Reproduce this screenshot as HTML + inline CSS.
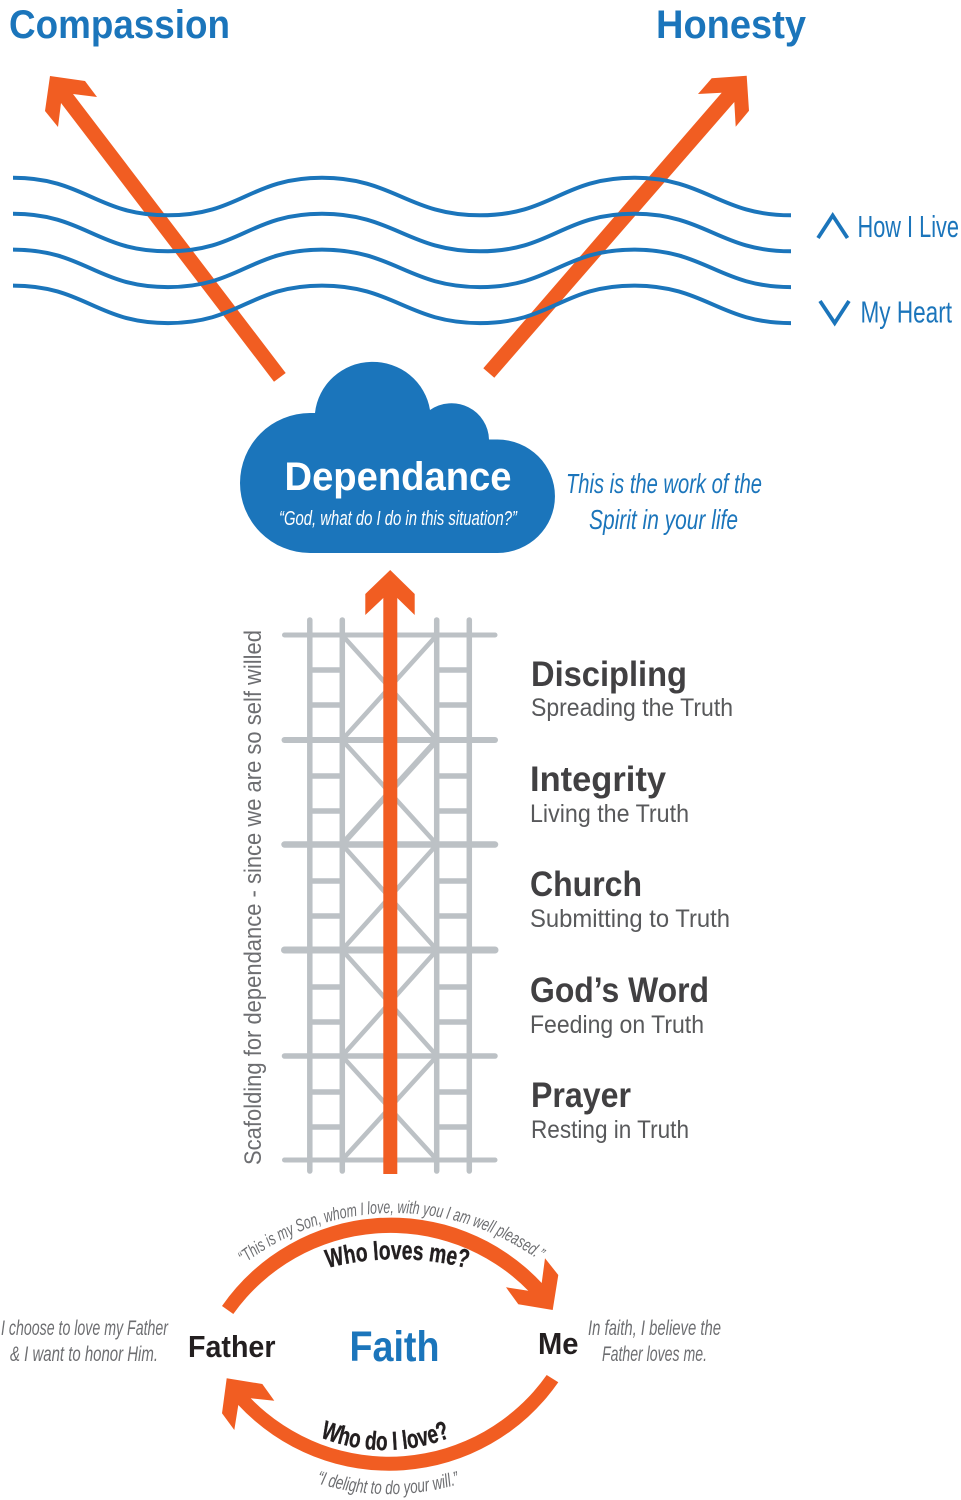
<!DOCTYPE html>
<html lang="en"><head><meta charset="utf-8"><title>Dependance diagram</title>
<style>
html,body{margin:0;padding:0;background:#fff}
svg{display:block}
text{font-family:"Liberation Sans",sans-serif}
.h{font-weight:bold;fill:#414042;font-size:35px}
.s{fill:#58595b;font-size:25px}
.q{font-style:italic;fill:#6d6e71;font-size:21px}
.b{fill:#1b75bb}
.bd{font-weight:bold;fill:#231f20}
.hv{stroke:#231f20;stroke-width:.4}
</style></head><body>
<svg xmlns="http://www.w3.org/2000/svg" width="961" height="1500" viewBox="0 0 961 1500">
<defs>
<path id="p1" d="M244,1264 A246,246 0 0 1 544,1264"/>
<path id="p2" d="M327.5,1268 A277,277 0 0 1 473.5,1270"/>
<path id="p3" d="M320,1437 A171,171 0 0 0 451,1437"/>
<path id="p4" d="M316,1483 A246,246 0 0 0 459,1484"/>
<path id="w" d="M13,0 C85,0 96,37.5 168,37.5 C240,37.5 250,0 322,0 C394,0 408,37.5 480,37.5 C552,37.5 562,0 634,0 C706,0 719,37.5 791,37.5" fill="none" stroke="#1b75bb" stroke-width="4"/>
</defs>

<text x="9" y="38" font-size="40" font-weight="bold" class="b" textLength="221" lengthAdjust="spacingAndGlyphs">Compassion</text>
<text x="656" y="38" font-size="40" font-weight="bold" class="b" textLength="150" lengthAdjust="spacingAndGlyphs">Honesty</text>

<!-- big orange arrows -->
<polygon fill="#f15d22" points="285.7,373 274,381.7 61,103 58,127 45,111 50,76 85,81 97,97 73,94"/>
<polygon fill="#f15d22" points="483.3,368.3 494.3,377.7 734.3,102 735.7,126.7 749,110.7 746.7,75.7 711.7,78.3 698,94 721.7,92.7"/>

<!-- waves -->
<use href="#w" y="177.8"/>
<use href="#w" y="213.8"/>
<use href="#w" y="249.6"/>
<use href="#w" y="285.6"/>

<polyline points="818,238 832.7,215.5 847.5,238" fill="none" stroke="#1b75bb" stroke-width="3.8"/>
<polyline points="820,301 834.7,323 849,301" fill="none" stroke="#1b75bb" stroke-width="3.8"/>
<text x="857.5" y="237" font-size="31" class="b" textLength="101.5" lengthAdjust="spacingAndGlyphs">How I Live</text>
<text x="860.5" y="322.5" font-size="31" class="b" textLength="91.5" lengthAdjust="spacingAndGlyphs">My Heart</text>

<!-- cloud -->
<path fill="#1b75bb" d="M310,553 A70,70 0 0 1 310,413 L315,413 A58,57 0 0 1 430,410 A37.5,37 0 0 1 489,439.5 L497.5,439.5 A57.5,56.75 0 0 1 497.5,553 Z"/>
<text x="284.5" y="490" font-size="40" font-weight="bold" fill="#fff" textLength="227" lengthAdjust="spacingAndGlyphs">Dependance</text>
<text x="279" y="525" font-size="20" font-style="italic" fill="#fff" textLength="238" lengthAdjust="spacingAndGlyphs">“God, what do I do in this situation?”</text>
<text x="566" y="493" font-size="28" font-style="italic" class="b" textLength="196" lengthAdjust="spacingAndGlyphs">This is the work of the</text>
<text x="589" y="529" font-size="28" font-style="italic" class="b" textLength="149" lengthAdjust="spacingAndGlyphs">Spirit in your life</text>

<!-- scaffold -->
<g stroke="#bcc1c5" fill="none">
<g stroke-width="5.5" stroke-linecap="round">
<line x1="309.8" y1="620" x2="309.8" y2="1171"/>
<line x1="342.3" y1="620" x2="342.3" y2="1171"/>
<line x1="436.7" y1="620" x2="436.7" y2="1171"/>
<line x1="469.3" y1="620" x2="469.3" y2="1171"/>
</g>
<g stroke-linecap="round">
<line x1="284.5" y1="635" x2="495" y2="635" stroke-width="5"/>
<line x1="284.5" y1="740" x2="495" y2="740" stroke-width="6"/>
<line x1="284.5" y1="844.5" x2="495" y2="844.5" stroke-width="6.5"/>
<line x1="284.5" y1="950" x2="495" y2="950" stroke-width="7"/>
<line x1="284.5" y1="1056" x2="495" y2="1056" stroke-width="5.5"/>
<line x1="284.5" y1="1160" x2="495" y2="1160" stroke-width="5"/>
</g>
<g stroke-width="5.5">
<path d="M310,670H342M437,670H469M310,705H342M437,705H469M310,776H342M437,776H469M310,811H342M437,811H469M310,881H342M437,881H469M310,916H342M437,916H469M310,987H342M437,987H469M310,1022H342M437,1022H469M310,1092H342M437,1092H469M310,1127H342M437,1127H469"/>
</g>
<g stroke-width="4.6">
<path d="M342,635L437,740M437,635L342,740M342,740L437,844.5M342,950L437,844.5M342,844.5L437,950M342,950L437,1056M437,950L342,1056M342,1056L437,1160M437,1056L342,1160"/>
</g>
<path d="M437,740L342,844.5" stroke-width="5.8"/>
</g>
<polygon fill="#f15d22" points="383.3,1174 383.3,598 365.3,615 365.3,594 390.2,570 414.7,594 414.7,615 397.3,598 397.3,1174"/>

<text transform="translate(261,1165) rotate(-90)" font-size="24" fill="#6d6e71" textLength="535" lengthAdjust="spacingAndGlyphs">Scafolding for dependance - since we are so self willed</text>

<!-- labels -->
<text class="h" x="531" y="686" textLength="156" lengthAdjust="spacingAndGlyphs">Discipling</text>
<text class="s" x="531" y="716" textLength="202" lengthAdjust="spacingAndGlyphs">Spreading the Truth</text>
<text class="h" x="530" y="791" textLength="136" lengthAdjust="spacingAndGlyphs">Integrity</text>
<text class="s" x="530" y="822" textLength="159" lengthAdjust="spacingAndGlyphs">Living the Truth</text>
<text class="h" x="530" y="896" textLength="112" lengthAdjust="spacingAndGlyphs">Church</text>
<text class="s" x="530" y="927" textLength="200" lengthAdjust="spacingAndGlyphs">Submitting to Truth</text>
<text class="h" x="530" y="1002" textLength="179" lengthAdjust="spacingAndGlyphs">God’s Word</text>
<text class="s" x="530" y="1033" textLength="174" lengthAdjust="spacingAndGlyphs">Feeding on Truth</text>
<text class="h" x="531" y="1107" textLength="100" lengthAdjust="spacingAndGlyphs">Prayer</text>
<text class="s" x="531" y="1138" textLength="158" lengthAdjust="spacingAndGlyphs">Resting in Truth</text>

<!-- faith arcs -->
<path fill="#f15d22" d="M222,1306 A206,206 0 0 1 541.7,1283 L545,1258.3 L558.3,1275 L552.7,1310 L518.3,1304.3 L506,1287.3 L528.3,1290.7 A193,193 0 0 0 233.3,1314 Z"/>
<path fill="#f15d22" d="M558.3,1382.3 A206,206 0 0 1 238.3,1405 L234.3,1430 L222,1413.3 L226.7,1378.3 L262.3,1384 L274.3,1400.7 L250.7,1398.3 A193,193 0 0 0 546.7,1375 Z"/>

<text font-size="18" font-style="italic" fill="#6d6e71" textLength="316" lengthAdjust="spacingAndGlyphs"><textPath href="#p1">“This is my Son, whom I love, with you I am well pleased.”</textPath></text>
<text font-size="26" class="bd hv" textLength="141" lengthAdjust="spacingAndGlyphs"><textPath href="#p2">Who loves me?</textPath></text>
<text font-size="26" class="bd hv" textLength="134" lengthAdjust="spacingAndGlyphs"><textPath href="#p3">Who do I love?</textPath></text>
<text font-size="19" font-style="italic" fill="#6d6e71" textLength="146" lengthAdjust="spacingAndGlyphs"><textPath href="#p4">“I delight to do your will.”</textPath></text>

<text x="349.5" y="1361" font-size="43" font-weight="bold" class="b" textLength="90" lengthAdjust="spacingAndGlyphs">Faith</text>
<text x="188" y="1357" font-size="31" class="bd" textLength="87.5" lengthAdjust="spacingAndGlyphs">Father</text>
<text x="538" y="1354" font-size="31" class="bd" textLength="40.5" lengthAdjust="spacingAndGlyphs">Me</text>

<text class="q" x="1" y="1335" textLength="167" lengthAdjust="spacingAndGlyphs">I choose to love my Father</text>
<text class="q" x="10" y="1361" textLength="148" lengthAdjust="spacingAndGlyphs">&amp; I want to honor Him.</text>
<text class="q" x="588" y="1335" textLength="133" lengthAdjust="spacingAndGlyphs">In faith, I believe the</text>
<text class="q" x="602" y="1361" textLength="105" lengthAdjust="spacingAndGlyphs">Father loves me.</text>
</svg>
</body></html>
